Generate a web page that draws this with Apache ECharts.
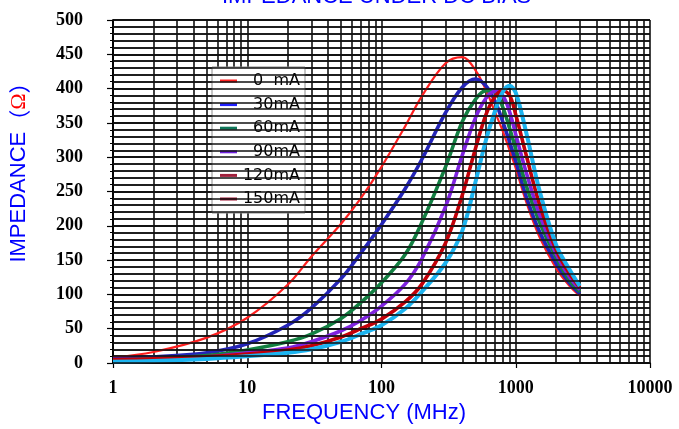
<!DOCTYPE html>
<html><head><meta charset="utf-8">
<script src="https://cdn.jsdelivr.net/npm/echarts@6/dist/echarts.min.js"></script>
<style>html,body{margin:0;padding:0;background:#fff}#c{width:679px;height:429px}</style>
</head><body><div id="c"></div>
<script>
// Frequency grid (MHz)
const freq = [1,2,5,10,20,30,50,70,100,150,200,300,400,500,600,700,800,900,1000,1200,1500,2000,2500,3000];
// Impedance (ohm) per DC bias
const imp0mA   = [8,16,37,66,114,155,203,240,286,345,389,437,446,427,398,366,338,310,284,234,184,138,113,98];
const imp30mA  = [6,9,15,28,55,80,123,160,202,254,297,365,402,414,404,382,352,322,294,242,192,145,117,101];
const imp60mA  = [4,6,11,19,31,42,65,88,117,158,205,286,352,384,397,395,373,342,312,258,206,154,121,104];
const imp90mA  = [3,5,9,15,22,31,47,62,83,115,152,228,303,357,386,396,390,366,333,277,217,159,126,107];
const imp120mA = [5,6,9,13,19,25,38,50,64,89,115,175,245,312,362,388,397,390,362,302,232,165,131,110];
const imp150mA = [2,3,6,10,15,20,31,42,55,79,104,146,193,263,325,367,395,404,394,335,252,172,137,112];

const seriesNames = ['0  mA','30mA','60mA','90mA','120mA','150mA'];
const seriesValues = [imp0mA, imp30mA, imp60mA, imp90mA, imp120mA, imp150mA];
const lineColors = ['#ff1f1f','#2424b8','#138042','#7f22e0','#c20008','#1cb4f0'];
const legendColors = ['#ff2020','#2020ff','#10785a','#7020e0','#a0203c','#a01030'];
const lineWidths = [2.2,3.6,3.6,3.6,3.6,4];

const xTickLabels = [1,10,100,1000,10000];
const yTickLabels = [0,50,100,150,200,250,300,350,400,450,500];
const yGridStep = 10;

const chart = echarts.init(document.getElementById('c'), null, {renderer:'canvas'});
const gl = () => ({show:true, lineStyle:{color:'#111111', width:1.6, type:'solid', opacity:1}});
const tickFont = () => ({fontFamily:'Liberation Serif', fontWeight:'bold', fontSize:18, color:'#000'});

const yMin = yTickLabels[0];
const yMax = yTickLabels[yTickLabels.length-1];
const yGridValues = [];
for (let v = yMin; v <= yMax; v += yGridStep) yGridValues.push(v);

const option = {
  animation:false,
  backgroundColor:'#fff',
  grid:{left:113, right:29, top:20, bottom:61, containLabel:false, show:false},
  graphic:[
    {type:'text', left:222, top:-14, style:{text:'IMPEDANCE UNDER DC BIAS', fill:'#0000ff', font:'22px "Liberation Sans"'}},
    {type:'text', x:19, y:167, rotation:Math.PI/2,
      style:{text:'IMPEDANCE{p|（}{o|Ω}{p|）}', fill:'#0000ff', font:'22px "Liberation Sans"', align:'center', verticalAlign:'middle',
        rich:{p:{fill:'#0000ff', fontFamily:'Noto Sans CJK SC', fontSize:22}, o:{fill:'#ff0000', fontFamily:'Liberation Serif', fontSize:22}}}}
  ],
  legend:{
    orient:'vertical', left:212, top:67,
    padding:[6,5,6,8],
    backgroundColor:'#fff', borderColor:'#8a8a8a', borderWidth:1,
    itemWidth:17, itemHeight:3, itemGap:7.6, icon:'rect',
    data: seriesNames.map((n,i)=>({name:n, itemStyle:{color:legendColors[i], borderWidth:0}})),
    formatter: n => '{t|' + n + '}',
    textStyle:{rich:{t:{width:58, align:'right', fontFamily:'DejaVu Sans', fontSize:16, lineHeight:20, color:'#000'}}}
  },
  xAxis:{
    type:'log', logBase:10, min:xTickLabels[0], max:xTickLabels[xTickLabels.length-1],
    axisLine:{show:true, onZero:false, lineStyle:{color:'#000', width:1.5}},
    axisTick:{show:true, length:5, lineStyle:{color:'#000', width:1.2}},
    axisLabel:Object.assign({margin:16, formatter: v => String(v)}, tickFont()),
    splitLine:gl(),
    minorTick:{show:false, splitNumber:9},
    minorSplitLine:gl(),
    name:'FREQUENCY (MHz)', nameLocation:'middle', nameGap:39,
    nameTextStyle:{color:'#0000ff', fontFamily:'Liberation Sans', fontSize:22, padding:[0,35,0,0]}
  },
  yAxis:[{
    // fine grid axis (every 10)
    type:'value', min:yMin, max:yMax, interval:yGridStep, position:'left', offset:0,
    axisLine:{show:true, onZero:false, lineStyle:{color:'#000', width:1.5}},
    axisTick:{show:true, length:3, lineStyle:{color:'#000', width:1}},
    axisLabel:{show:false},
    splitLine:gl()
  },{
    // labelled axis (every 50)
    type:'value', min:yMin, max:yMax, interval:50, position:'left', offset:0,
    axisLine:{show:true, onZero:false, lineStyle:{color:'#000', width:1.5}},
    axisTick:{show:true, length:6, lineStyle:{color:'#000', width:1.2}},
    axisLabel:Object.assign({margin:30}, tickFont()),
    splitLine:gl()
  }],
  series: [{
    name:'_grid', type:'line', data:[], z:1, silent:true, yAxisIndex:0,
    markLine:{silent:true, symbol:['none','none'], label:{show:false}, animation:false,
      lineStyle:{color:'#111111', width:1.6, type:'solid'},
      emphasis:{disabled:true},
      data: yGridValues.map(v => ({yAxis:v}))}
  }].concat(seriesNames.map((n,i)=>({
    name:n, type:'line', smooth:0.35, symbol:'none', color:lineColors[i], z:3, yAxisIndex:0,
    lineStyle:{color:lineColors[i], width:lineWidths[i]},
    data: freq.map((f,k)=>[f, seriesValues[i][k]])
  })))
};
chart.setOption(option);
</script></body></html>
